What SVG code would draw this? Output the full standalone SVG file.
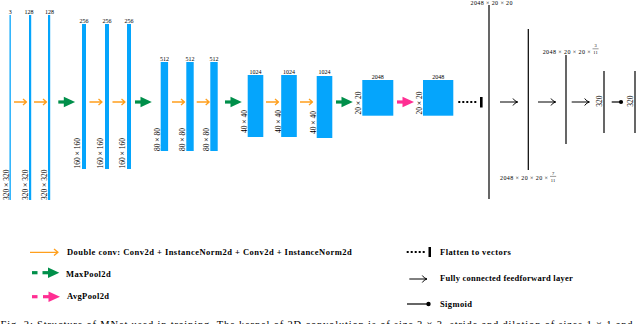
<svg xmlns="http://www.w3.org/2000/svg" xmlns:xlink="http://www.w3.org/1999/xlink" width="640" height="324" viewBox="0 0 640 324">
<style>
.bar{fill:#05a5fc}
.t{font-family:"Liberation Serif",serif;font-size:6px;fill:#000}
.d{font-family:"Liberation Serif",serif;font-size:7.5px;fill:#000}
.f{font-family:"Liberation Serif",serif;font-size:4.5px;fill:#000}
.leg{font-family:"Liberation Serif",serif;font-weight:bold;font-size:8.5px;fill:#000}
.cap{font-family:"Liberation Serif",serif;font-size:10.5px;fill:#000}
.vl{stroke:#000;stroke-width:1.2;fill:none}
</style>
<defs>
<g id="oa"><path d="M0,0 H12.5 M9,-3 L12.5,0 L9,3" fill="none" stroke="#ff9f1c" stroke-width="1.3" stroke-linejoin="round"/></g>
<g id="ga"><rect x="0" y="-1.6" width="6" height="3.2" fill="#008f4a"/><path d="M5.5,-5.3 L16.8,0 L5.5,5.3 Z" fill="#008f4a"/></g>
<g id="pa"><rect x="0" y="-1.6" width="6" height="3.2" fill="#ff2e93"/><path d="M5.5,-5.3 L17,0 L5.5,5.3 Z" fill="#ff2e93"/></g>
<g id="fa"><path d="M0,0 H17.5 M13,-3.5 Q14.8,-0.6 17.7,0 Q14.8,0.6 13,3.5" fill="none" stroke="#000" stroke-width="1"/></g>
</defs>

<g id="n1"><rect class="bar" x="9.5" y="15" width="1.3" height="185"/><text class="t" x="10.2" y="13.5" text-anchor="middle">3</text><text class="d" transform="translate(8.5,200) rotate(-90)">320 × 320</text></g>
<g id="n2"><rect class="bar" x="29" y="15" width="2.2" height="185"/><text class="t" x="29" y="13.5" text-anchor="middle">128</text><text class="d" transform="translate(28,200) rotate(-90)">320 × 320</text></g>
<g id="n3"><rect class="bar" x="48" y="15" width="2.2" height="185"/><text class="t" x="49.5" y="13.5" text-anchor="middle">128</text><text class="d" transform="translate(46.5,200) rotate(-90)">320 × 320</text></g>

<g id="n4"><rect class="bar" x="82" y="24" width="4" height="145"/><text class="t" x="84" y="22.5" text-anchor="middle">256</text><text class="d" transform="translate(79.5,168.5) rotate(-90)">160 × 160</text></g>
<g id="n5"><rect class="bar" x="105" y="24" width="4" height="145"/><text class="t" x="107" y="22.5" text-anchor="middle">256</text><text class="d" transform="translate(102.5,168.5) rotate(-90)">160 × 160</text></g>
<g id="n6"><rect class="bar" x="127" y="24" width="4" height="145"/><text class="t" x="129" y="22.5" text-anchor="middle">256</text><text class="d" transform="translate(125,168.5) rotate(-90)">160 × 160</text></g>

<g id="n7"><rect class="bar" x="160.7" y="62" width="7.4" height="89"/><text class="t" x="164.4" y="60.5" text-anchor="middle">512</text><text class="d" transform="translate(159.5,151) rotate(-90)">80 × 80</text></g>
<g id="n8"><rect class="bar" x="186.3" y="62" width="7.4" height="89"/><text class="t" x="190" y="60.5" text-anchor="middle">512</text><text class="d" transform="translate(185,151) rotate(-90)">80 × 80</text></g>
<g id="n9"><rect class="bar" x="210.3" y="62" width="7.4" height="89"/><text class="t" x="214" y="60.5" text-anchor="middle">512</text><text class="d" transform="translate(209,151) rotate(-90)">80 × 80</text></g>

<g id="n10"><rect class="bar" x="247.7" y="75" width="15.6" height="62"/><text class="t" x="255.5" y="73.5" text-anchor="middle">1024</text><text class="d" transform="translate(247,133) rotate(-90)">40 × 40</text></g>
<g id="n11"><rect class="bar" x="281.2" y="75" width="15.6" height="62"/><text class="t" x="289" y="73.5" text-anchor="middle">1024</text><text class="d" transform="translate(280.5,133) rotate(-90)">40 × 40</text></g>
<g id="n12"><rect class="bar" x="316.7" y="76" width="15.6" height="62"/><text class="t" x="324.5" y="73.5" text-anchor="middle">1024</text><text class="d" transform="translate(315.5,134) rotate(-90)">40 × 40</text></g>

<g id="n13"><rect class="bar" x="362.3" y="80" width="31" height="35.7"/><text class="t" x="377.8" y="78.5" text-anchor="middle">2048</text><text class="d" transform="translate(361,114.5) rotate(-90)">20 × 20</text></g>
<g id="n14"><rect class="bar" x="423" y="80" width="30.3" height="35.7"/><text class="t" x="438.2" y="78.5" text-anchor="middle">2048</text><text class="d" transform="translate(422,114.5) rotate(-90)">20 × 20</text></g>

<g id="flatten"><line x1="458.3" y1="102" x2="478" y2="102" stroke="#000" stroke-width="2" stroke-dasharray="2 2"/><rect x="480" y="97" width="2.6" height="10.5" fill="#000"/></g>

<g id="v1"><line class="vl" x1="489" y1="5" x2="489" y2="199"/><text class="t" x="470.5" y="5" textLength="42">2048 × 20 × 20</text></g>
<g id="v2"><line class="vl" x1="528.3" y1="29" x2="528.3" y2="170"/><text class="t" x="500" y="180" textLength="48">2048 × 20 × 20 ×</text><text class="f" x="553" y="174.5" text-anchor="middle">7</text><line x1="550" y1="176.4" x2="556.2" y2="176.4" stroke="#000" stroke-width="0.4"/><text class="f" x="553" y="181.6" text-anchor="middle">11</text></g>
<g id="v3"><line class="vl" x1="566" y1="55" x2="566" y2="144"/><text class="t" x="542.7" y="53.5" textLength="48">2048 × 20 × 20 ×</text><text class="f" x="595.5" y="47" text-anchor="middle">3</text><line x1="592.5" y1="48.8" x2="598.6" y2="48.8" stroke="#000" stroke-width="0.4"/><text class="f" x="595.5" y="54" text-anchor="middle">11</text></g>
<g id="v4"><line class="vl" x1="604" y1="71" x2="604" y2="133"/><text class="d" transform="translate(602,101) rotate(-90)" text-anchor="middle">320</text></g>
<g id="v5"><line class="vl" x1="635" y1="71" x2="635" y2="133"/><text class="d" transform="translate(632.5,101) rotate(-90)" text-anchor="middle">320</text></g>

<g id="connectors">
<use xlink:href="#oa" transform="translate(14,102)"/>
<use xlink:href="#oa" transform="translate(34,102)"/>
<use xlink:href="#ga" transform="translate(58.3,102)"/>
<use xlink:href="#oa" transform="translate(89.5,102)"/>
<use xlink:href="#oa" transform="translate(112.5,102)"/>
<use xlink:href="#ga" transform="translate(135,102)"/>
<use xlink:href="#oa" transform="translate(172,102)"/>
<use xlink:href="#oa" transform="translate(196.7,102)"/>
<use xlink:href="#ga" transform="translate(225,102)"/>
<use xlink:href="#oa" transform="translate(266,102)"/>
<use xlink:href="#oa" transform="translate(300,102)"/>
<use xlink:href="#ga" transform="translate(336,102)"/>
<use xlink:href="#pa" transform="translate(397,102)"/>
<use xlink:href="#fa" transform="translate(500,102)"/>
<use xlink:href="#fa" transform="translate(538,102)"/>
<use xlink:href="#fa" transform="translate(571.7,102)"/>
<g id="sigmoid"><line x1="611.7" y1="102" x2="620" y2="102" stroke="#000" stroke-width="1.2"/><circle cx="621" cy="102" r="2.1" fill="#000"/></g>
</g>

<g id="legend">
<path d="M30,252.3 H58 M54,249 L58,252.3 L54,255.6" fill="none" stroke="#ff9f1c" stroke-width="1.3" stroke-linejoin="round"/>
<text class="leg" x="67" y="255.3" textLength="284.7">Double conv: Conv2d + InstanceNorm2d + Conv2d + InstanceNorm2d</text>
<rect x="32" y="271.1" width="5.5" height="3.2" fill="#008f4a"/>
<use xlink:href="#ga" transform="translate(42.5,272.7)"/>
<text class="leg" x="66" y="276.5" textLength="44.7">MaxPool2d</text>
<rect x="32" y="295.1" width="5.5" height="3.2" fill="#ff2e93"/>
<use xlink:href="#pa" transform="translate(43,296.7)"/>
<text class="leg" x="67" y="299" textLength="42">AvgPool2d</text>
<line x1="406.7" y1="252" x2="425" y2="252" stroke="#000" stroke-width="2" stroke-dasharray="2 2"/>
<rect x="428.5" y="247" width="2.5" height="10" fill="#000"/>
<text class="leg" x="440" y="255.3" textLength="70.7">Flatten to vectors</text>
<use xlink:href="#fa" transform="translate(409.3,279)"/>
<text class="leg" x="440" y="281" textLength="132.7">Fully connected feedforward layer</text>
<line x1="407" y1="304" x2="427" y2="304" stroke="#000" stroke-width="1.2"/>
<circle cx="428.5" cy="304" r="2.2" fill="#000"/>
<text class="leg" x="440" y="307.2" textLength="32">Sigmoid</text>
</g>

<text class="cap" x="0.5" y="328" textLength="632">Fig. 2: Structure of MNet used in training. The kernel of 2D convolution is of size 3 × 3, stride and dilation of sizes 1 × 1 and</text>
</svg>
